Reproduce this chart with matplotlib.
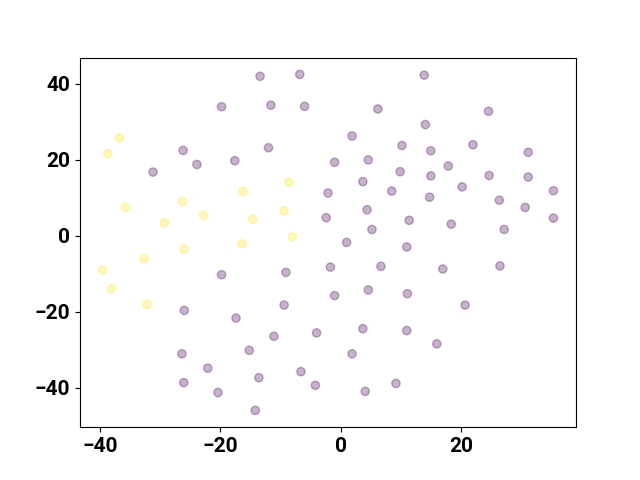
import numpy as np
import matplotlib
matplotlib.use("Agg")
import matplotlib.pyplot as plt
from matplotlib import font_manager as fm

plt.rcParams['font.size'] = 14

# cluster 1 (yellow)
x_yellow = [-36.8, -38.7, -35.8, -26.3, -16.2, -8.6, -29.3, -22.8, -14.6, -9.4,
            -8.0, -16.4, -26.0, -32.7, -39.6, -38.1, -32.2]
y_yellow = [25.7, 21.6, 7.4, 9.0, 11.6, 14.0, 3.3, 5.3, 4.3, 6.5,
            -0.4, -2.2, -3.5, -6.0, -9.1, -14.0, -18.1]

# cluster 0 (purple)
x_purple = [-13.4, -6.8, -19.8, -11.6, -6.0, -26.2, -12.0, -23.9, -17.6, -31.2,
            -1.0, 13.9, 6.2, 24.6, 14.1, 1.9, 10.2, 15.0, 22.0, 31.2,
            4.6, 17.9, 9.9, 15.0, 24.7, 31.2, 3.7, 8.5, 20.2, 35.4,
            -2.1, 14.8, 26.4, 4.4, 30.7, 35.4, -2.4, 11.4, 18.4, 5.2,
            27.2, 1.0, 11.0, -19.8, -9.1, -1.7, 6.7, 17.0, 26.5, -26.0,
            -17.4, -9.4, -1.0, 4.6, 11.1, 20.7, -11.1, -4.0, 3.7, 11.0,
            16.0, -15.2, -26.4, 1.9, -22.1, -13.6, -6.6, -4.2, -26.1, -20.4,
            9.2, 4.1, -14.2]
y_purple = [41.9, 42.4, 33.9, 34.3, 34.0, 22.4, 23.1, 18.7, 19.7, 16.7,
            19.3, 42.2, 33.3, 32.7, 29.2, 26.2, 23.7, 22.3, 23.9, 21.9,
            19.9, 18.3, 16.8, 15.7, 15.8, 15.4, 14.2, 11.7, 12.8, 11.8,
            11.2, 10.1, 9.3, 6.8, 7.4, 4.6, 4.7, 4.0, 3.0, 1.6,
            1.6, -1.8, -3.0, -10.3, -9.7, -8.3, -8.1, -8.8, -8.0, -19.7,
            -21.7, -18.3, -15.8, -14.3, -15.3, -18.3, -26.5, -25.6, -24.5, -25.0,
            -28.5, -30.2, -31.1, -31.1, -34.9, -37.4, -35.8, -39.4, -38.7, -41.3,
            -38.9, -41.0, -46.0]

x = np.array(x_purple + x_yellow)
y = np.array(y_purple + y_yellow)
labels = np.array([0] * len(x_purple) + [1] * len(x_yellow))

bold_path = fm.findfont(fm.FontProperties(family='Roboto', weight='bold'))
tick_font = fm.FontProperties(fname=bold_path, size=15)

fig = plt.figure(figsize=(6.4, 4.8), dpi=100)
ax = plt.gca()
ax.scatter(x, y, c=labels, cmap='viridis', alpha=0.3)
fig.canvas.draw()
for lbl in ax.get_xticklabels() + ax.get_yticklabels():
    lbl.set_fontproperties(tick_font)
plt.savefig('out.png')
